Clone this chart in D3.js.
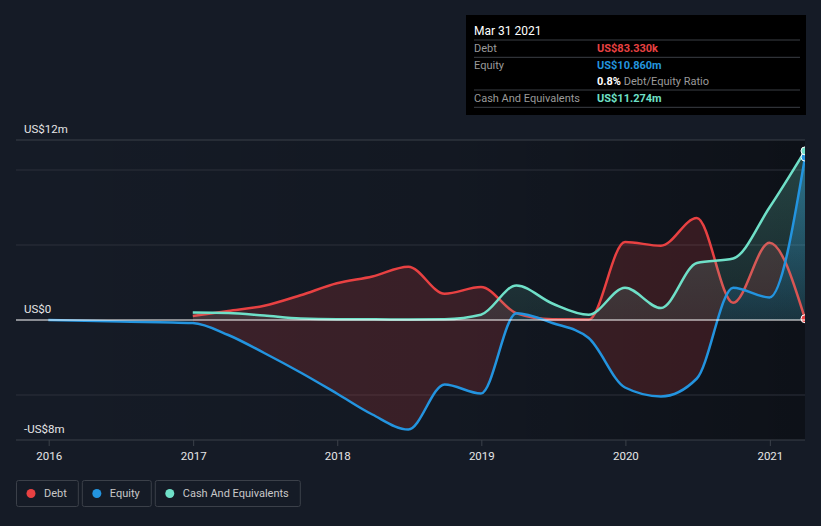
<!DOCTYPE html>
<html>
<head>
<meta charset="utf-8">
<script src="https://cdn.jsdelivr.net/npm/d3@7"></script>
<style>
  body { margin: 0; background: #151b26; }
  text { font-family: Roboto, "Open Sans", sans-serif; }
</style>
</head>
<body>
<div id="chart"></div>
<script>
// quarterly report dates (m = millions US$)
var dates = ["2016-12-31","2017-03-31","2017-06-30","2017-09-30","2017-12-31","2018-03-31","2018-06-30",
             "2018-09-30","2018-12-31","2019-03-31","2019-06-30","2019-09-30","2019-12-31","2020-03-31",
             "2020-06-30","2020-09-30","2020-12-31","2021-03-31"];
var debt   = [0.27, 0.6, 0.95, 1.65, 2.45, 2.9, 3.55, 1.75, 2.2, 0.45, 0.05, 0.03, 5.2, 4.95, 6.8, 1.15, 5.15, 0.0833];
var equity = [-0.2, -1.0, -2.2, -3.5, -4.9, -6.3, -7.3, -4.3, -4.9, 0.45, -0.2, -1.2, -4.5, -5.1, -3.9, 2.15, 1.5, 10.86];
var cash   = [0.5, 0.47, 0.3, 0.1, 0.05, 0.05, 0.03, 0.05, 0.35, 2.3, 1.1, 0.35, 2.15, 0.8, 3.8, 4.1, 7.5, 11.274];
// equity goes back further than the other two
var equityEarlyDates = ["2015-12-31","2016-06-30"];
var equityEarly = [0.0, -0.1];

var yearTicks = [2016, 2017, 2018, 2019, 2020, 2021];
var yLabels = [[12, "US$12m"], [0, "US$0"], [-8, "-US$8m"]];
var gridValues = [10, 5, -5];

var tipTitle = "Mar 31 2021";
var tipRows = [["Debt", "US$83.330k"], ["Equity", "US$10.860m"], ["Cash And Equivalents", "US$11.274m"]];
var ratioText = ["0.8%", " Debt/Equity Ratio"];

var colors = { debt: "#e84142", equity: "#2394df", cash: "#6fe0c8" };
var legendItems = [["Debt", "debt"], ["Equity", "equity"], ["Cash And Equivalents", "cash"]];

var W = 821, H = 526;
var left = 16, plotLeft = 48.7, plotRight = 805, plotTop = 140, plotBottom = 440;
var parse = d3.timeParse("%Y-%m-%d");

var x = d3.scaleTime()
    .domain([parse("2016-01-01"), parse("2021-03-31")])
    .range([plotLeft, plotRight]);
var y = d3.scaleLinear().domain([-8, 12]).range([plotBottom, plotTop]);

var rows = dates.map(function(d, i) {
    return { date: parse(d), debt: debt[i], equity: equity[i], cash: cash[i] };
});
var eqRows = equityEarlyDates.map(function(d, i) { return { date: parse(d), equity: equityEarly[i] }; })
    .concat(rows.map(function(r) { return { date: r.date, equity: r.equity }; }));

var svg = d3.select("#chart").append("svg").attr("width", W).attr("height", H);
var defs = svg.append("defs");

var bg = defs.append("linearGradient").attr("id", "bgfade").attr("x1", 0).attr("x2", 1).attr("y1", 0).attr("y2", 0);
bg.append("stop").attr("offset", 0).attr("stop-color", "#000").attr("stop-opacity", 0);
bg.append("stop").attr("offset", 0.55).attr("stop-color", "#000").attr("stop-opacity", 0.12);
bg.append("stop").attr("offset", 1).attr("stop-color", "#000").attr("stop-opacity", 0.38);

function vGrad(id, color, opTop, opZero) {
    var gr = defs.append("linearGradient").attr("id", id).attr("gradientUnits", "userSpaceOnUse")
        .attr("x1", 0).attr("x2", 0).attr("y1", y(12)).attr("y2", y(0));
    gr.append("stop").attr("offset", 0).attr("stop-color", color).attr("stop-opacity", opTop);
    gr.append("stop").attr("offset", 1).attr("stop-color", color).attr("stop-opacity", opZero);
}
vGrad("eqfill", colors.equity, 0.5, 0.12);
vGrad("cashfill", colors.cash, 0.26, 0.1);

svg.append("rect").attr("x", plotLeft).attr("y", plotTop).attr("width", plotRight - plotLeft)
    .attr("height", plotBottom - plotTop).attr("fill", "url(#bgfade)");

defs.append("clipPath").attr("id", "plot").append("rect")
    .attr("x", left).attr("y", plotTop - 20).attr("width", plotRight - left).attr("height", plotBottom - plotTop + 40);
defs.append("clipPath").attr("id", "abovezero").append("rect")
    .attr("x", 0).attr("y", 0).attr("width", W).attr("height", y(0));

// gridlines
svg.selectAll(".grid").data(gridValues).enter().append("line")
    .attr("x1", left).attr("x2", plotRight)
    .attr("y1", function(d) { return y(d); }).attr("y2", function(d) { return y(d); })
    .attr("stroke", "#2c313a").attr("stroke-width", 1);
svg.append("line").attr("x1", left).attr("x2", plotRight).attr("y1", y(12)).attr("y2", y(12))
    .attr("stroke", "#3b4049");
svg.append("line").attr("x1", left).attr("x2", plotRight).attr("y1", y(-8)).attr("y2", y(-8))
    .attr("stroke", "#3b4049");

var curve = d3.curveMonotoneX;
var g = svg.append("g").attr("clip-path", "url(#plot)");

// positive equity filled down to zero
var eqArea = d3.area().curve(curve).x(function(d) { return x(d.date); })
    .y0(y(0)).y1(function(d) { return y(d.equity); });
g.append("g").attr("clip-path", "url(#abovezero)").append("path").attr("d", eqArea(rows))
    .attr("fill", "url(#eqfill)");

// red fill where debt is above equity
var eqLineTop = d3.area().curve(curve).x(function(d) { return x(d.date); })
    .y0(0).y1(function(d) { return y(d.equity); });
defs.append("clipPath").attr("id", "aboveEq").append("path").attr("d", eqLineTop(rows));
var between = d3.area().curve(curve).x(function(d) { return x(d.date); })
    .y0(function(d) { return y(d.equity); }).y1(function(d) { return y(d.debt); });
g.append("g").attr("clip-path", "url(#aboveEq)").append("path").attr("d", between(rows))
    .attr("fill", colors.debt).attr("fill-opacity", 0.18);

function line(key) {
    return d3.line().curve(curve).x(function(d) { return x(d.date); }).y(function(d) { return y(d[key]); });
}
g.append("path").attr("d", line("debt")(rows)).attr("fill", "none")
    .attr("stroke", colors.debt).attr("stroke-width", 2.5);

var cashArea = d3.area().curve(curve).x(function(d) { return x(d.date); })
    .y0(y(0)).y1(function(d) { return y(d.cash); });
g.append("path").attr("d", cashArea(rows)).attr("fill", "url(#cashfill)");

// zero line
svg.append("line").attr("x1", left).attr("x2", plotRight).attr("y1", y(0)).attr("y2", y(0))
    .attr("stroke", "#ffffff").attr("stroke-width", 1);

g.append("path").attr("d", line("equity")(eqRows)).attr("fill", "none")
    .attr("stroke", colors.equity).attr("stroke-width", 2.5);
g.append("path").attr("d", line("cash")(rows)).attr("fill", "none")
    .attr("stroke", colors.cash).attr("stroke-width", 2.5);

var last = rows[rows.length - 1];
["debt", "equity", "cash"].forEach(function(k) {
    g.append("circle").attr("cx", x(last.date)).attr("cy", y(last[k])).attr("r", 4)
        .attr("fill", colors[k]).attr("stroke", "#ffffff").attr("stroke-width", 1);
});

// y labels
svg.selectAll(".ylab").data(yLabels).enter().append("text")
    .attr("x", 24).attr("y", function(d) { return y(d[0]) - 7.5; })
    .attr("fill", "#e6e6e6").attr("font-size", "11.5px")
    .text(function(d) { return d[1]; });

// x axis
var xAxis = d3.axisBottom(x)
    .tickValues(yearTicks.map(function(yr) { return new Date(yr, 0, 1); }))
    .tickFormat(d3.timeFormat("%Y")).tickSize(6).tickPadding(6);
var ax = svg.append("g").attr("transform", "translate(0," + plotBottom + ")").call(xAxis);
ax.select(".domain").remove();
ax.selectAll(".tick line").attr("stroke", "#3b4049");
ax.selectAll(".tick text").attr("fill", "#e6e6e6").attr("font-size", "11.5px")
    .attr("font-family", "Roboto, sans-serif");

// legend
var lx = 16;
legendItems.forEach(function(it) {
    var lg = svg.append("g").attr("transform", "translate(" + lx + ",480)");
    var t = lg.append("text").attr("x", 28).attr("y", 17).attr("fill", "#c8c8c8")
        .attr("font-size", "11px").text(it[0]);
    var w = t.node().getComputedTextLength() + 39;
    lg.insert("rect", "text").attr("x", 0.5).attr("y", 0.5).attr("width", w).attr("height", 26)
        .attr("rx", 2).attr("fill", "none").attr("stroke", "#3b4049");
    lg.append("circle").attr("cx", 15).attr("cy", 13.5).attr("r", 4.5).attr("fill", colors[it[1]]);
    lx += w + 4;
});

// tooltip box
var tip = svg.append("g").attr("transform", "translate(466,15)");
tip.append("rect").attr("width", 340).attr("height", 100).attr("fill", "#000000");
tip.append("text").attr("x", 8).attr("y", 20).attr("fill", "#ffffff").attr("font-size", "12px").text(tipTitle);
[25, 42.3, 75, 92.3].forEach(function(ly) {
    tip.append("line").attr("x1", 8).attr("x2", 334).attr("y1", ly).attr("y2", ly)
        .attr("stroke", "#3b3f45").attr("stroke-width", 1);
});
var rowY = [37, 54, 87];
var rowCol = [colors.debt, colors.equity, colors.cash];
tipRows.forEach(function(r, i) {
    tip.append("text").attr("x", 8).attr("y", rowY[i]).attr("fill", "#9a9a9a").attr("font-size", "11px").text(r[0]);
    tip.append("text").attr("x", 131).attr("y", rowY[i]).attr("fill", rowCol[i]).attr("font-size", "11px")
        .attr("font-weight", "bold").text(r[1]);
});
var rt = tip.append("text").attr("x", 131).attr("y", 70).attr("font-size", "11px");
rt.append("tspan").attr("fill", "#ffffff").attr("font-weight", "bold").text(ratioText[0]);
rt.append("tspan").attr("fill", "#9a9a9a").text(ratioText[1]);
</script>
</body>
</html>
